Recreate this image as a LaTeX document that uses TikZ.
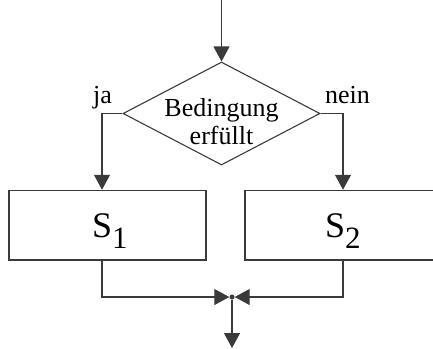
\documentclass[tikz,border=0pt]{standalone}
\usepackage{fontspec}
\setmainfont{Liberation Serif}
\usetikzlibrary{shapes.geometric,arrows.meta,calc}
\definecolor{ink}{HTML}{3A3A3A}
\begin{document}
\begin{tikzpicture}[x=1pt,y=-1pt,
  line/.style={draw=ink,line width=1.2pt},
  arr/.style={line,-{Triangle[length=15pt,width=16pt]}},
  box/.style={draw=ink,line width=1.5pt,rectangle,inner sep=0pt},
  cond/.style={draw=ink,line width=1.1pt,diamond,inner sep=0pt,minimum width=197pt,minimum height=103pt},
  lbl/.style={inner sep=0pt,font=\fontsize{26}{29}\selectfont},
  stxt/.style={inner sep=0pt,anchor=base west,font=\fontsize{36}{40}\selectfont}]
\useasboundingbox (0,0) rectangle (433,348);
\coordinate (in) at (221.5,0);
\coordinate (lx) at (102,0);
\coordinate (rx) at (343,0);
\node[cond] (d) at (221.5,113.5) {};
\node[lbl,align=center] (dt) at (221.5,122) {Bedingung\\[-1pt]erfüllt};
\node[lbl,anchor=base west] (ja) at (93,103) {ja};
\node[lbl,anchor=base west] (nein) at (325,103) {nein};
\node[box,minimum width=197pt,minimum height=69.5pt] (s1) at (107.5,225.25) {};
\node[box,minimum width=210pt,minimum height=69.5pt] (s2) at (350,225.25) {};
\node[stxt] (s1t) at (92,237) {S\raisebox{-11pt}{\fontsize{31}{34}\selectfont 1}};
\node[stxt] (s2t) at (325,237) {S\raisebox{-11pt}{\fontsize{31}{34}\selectfont 2}};
\node[circle,fill=ink,inner sep=0pt,minimum size=5pt] (j) at (232,297) {};
\coordinate (out) at (232,348);
\draw[arr] (in) -- (d.north);
\draw[arr] (d.west) -| (s1.north -| lx);
\draw[arr] (d.east) -| (s2.north -| rx);
\draw[arr] (s1.south -| lx) |- (j);
\draw[arr] (s2.south -| rx) |- (j);
\draw[arr] (j) -- (out);
\end{tikzpicture}
\end{document}
